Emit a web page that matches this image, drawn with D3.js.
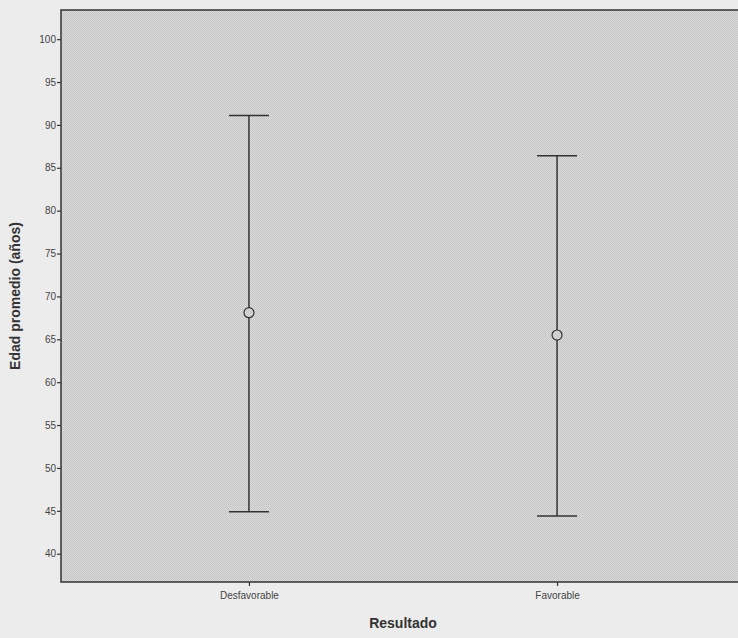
<!DOCTYPE html>
<html>
<head>
<meta charset="utf-8">
<script src="https://cdn.jsdelivr.net/npm/d3@7"></script>
<style>
body { margin: 0; background: #ececec; }
</style>
</head>
<body>
<div id="chart"></div>
<script>
var categories = ['Desfavorable', 'Favorable'];
var means = [68.1, 65.5];
var lower = [44.9, 44.4];
var upper = [91.1, 86.4];
var yTicks = [40, 45, 50, 55, 60, 65, 70, 75, 80, 85, 90, 95, 100];

var width = 738, height = 638;
var plotLeft = 61, plotTop = 10, plotRight = 745, plotBottom = 582;

var svg = d3.select('#chart').append('svg')
    .attr('width', width)
    .attr('height', height);

// dithered fill like the scanned original
var defs = svg.append('defs');
var pat = defs.append('pattern')
    .attr('id', 'dots')
    .attr('width', 2).attr('height', 2)
    .attr('patternUnits', 'userSpaceOnUse');
pat.append('rect').attr('width', 2).attr('height', 2).style('fill', '#d8d8d8');
pat.append('rect').attr('width', 1).attr('height', 1).style('fill', '#c6c6c6');
pat.append('rect').attr('x', 1).attr('y', 1).attr('width', 1).attr('height', 1).style('fill', '#c9c9c9');

var x = d3.scalePoint()
    .domain(categories)
    .range([plotLeft, plotRight])
    .padding(0.61);

var y = d3.scaleLinear()
    .domain([36.7, 103.4])
    .range([plotBottom, plotTop]);

svg.append('rect')
    .attr('x', plotLeft)
    .attr('y', plotTop)
    .attr('width', plotRight - plotLeft)
    .attr('height', plotBottom - plotTop)
    .style('fill', 'url(#dots)')
    .style('stroke', '#333')
    .style('stroke-width', 1.5);

var yAxis = svg.append('g')
    .attr('transform', 'translate(' + plotLeft + ',0)')
    .call(d3.axisLeft(y).tickValues(yTicks).tickSize(4).tickSizeOuter(0));
yAxis.select('.domain').remove();
yAxis.selectAll('line').style('stroke', '#333').style('stroke-width', 1.2);
yAxis.selectAll('text')
    .style('font-family', 'Liberation Sans, Arial, sans-serif')
    .style('font-size', '10px')
    .style('fill', '#444')
    .attr('x', -5);

var xAxis = svg.append('g')
    .attr('transform', 'translate(0,' + plotBottom + ')')
    .call(d3.axisBottom(x).tickSize(4).tickSizeOuter(0));
xAxis.select('.domain').remove();
xAxis.selectAll('line').style('stroke', '#333').style('stroke-width', 1.2);
xAxis.selectAll('text')
    .style('font-family', 'Liberation Sans, Arial, sans-serif')
    .style('font-size', '10px')
    .style('fill', '#444')
    .attr('y', 10);

// error bars
var bars = svg.selectAll('g.bar').data(categories).enter().append('g').attr('class', 'bar');
bars.append('line')
    .attr('x1', function (d) { return x(d); })
    .attr('x2', function (d) { return x(d); })
    .attr('y1', function (d, i) { return y(upper[i]); })
    .attr('y2', function (d, i) { return y(lower[i]); })
    .style('stroke', '#333').style('stroke-width', 1.5);
bars.append('line')
    .attr('x1', function (d) { return x(d) - 20; })
    .attr('x2', function (d) { return x(d) + 20; })
    .attr('y1', function (d, i) { return y(upper[i]); })
    .attr('y2', function (d, i) { return y(upper[i]); })
    .style('stroke', '#333').style('stroke-width', 1.5);
bars.append('line')
    .attr('x1', function (d) { return x(d) - 20; })
    .attr('x2', function (d) { return x(d) + 20; })
    .attr('y1', function (d, i) { return y(lower[i]); })
    .attr('y2', function (d, i) { return y(lower[i]); })
    .style('stroke', '#333').style('stroke-width', 1.5);
bars.append('circle')
    .attr('cx', function (d) { return x(d); })
    .attr('cy', function (d, i) { return y(means[i]); })
    .attr('r', 5)
    .style('fill', '#d0d0d0')
    .style('stroke', '#333')
    .style('stroke-width', 1.2);

svg.append('text')
    .attr('x', (plotLeft + plotRight) / 2)
    .attr('y', 628)
    .attr('text-anchor', 'middle')
    .style('font-family', 'Liberation Sans, Arial, sans-serif')
    .style('font-size', '14px')
    .style('font-weight', 'bold')
    .style('fill', '#333')
    .text('Resultado');

svg.append('text')
    .attr('transform', 'translate(20,' + ((plotTop + plotBottom) / 2) + ') rotate(-90)')
    .attr('text-anchor', 'middle')
    .style('font-family', 'Liberation Sans, Arial, sans-serif')
    .style('font-size', '14px')
    .style('font-weight', 'bold')
    .style('fill', '#333')
    .text('Edad promedio (años)');
</script>
</body>
</html>
